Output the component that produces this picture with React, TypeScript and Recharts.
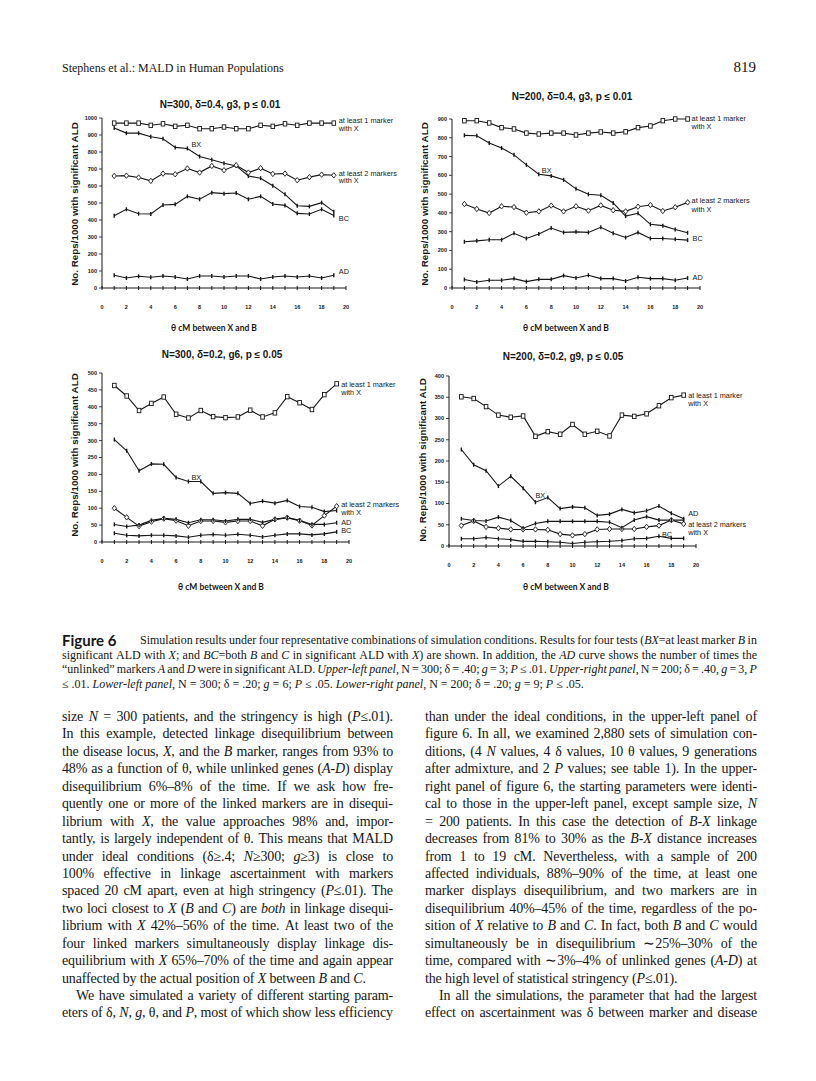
import React from "react";
import { LineChart, Line, XAxis, YAxis } from "recharts";

// θ (cM between X and B) — same for all four panels
const theta = [1, 2, 3, 4, 5, 6, 7, 8, 9, 10, 11, 12, 13, 14, 15, 16, 17, 18, 19];
const xTicks = [0, 1, 2, 3, 4, 5, 6, 7, 8, 9, 10, 11, 12, 13, 14, 15, 16, 17, 18, 19, 20];

// upper-left: N=300, δ=0.4, g3, p ≤ 0.01
const ulAtLeast1 = [970, 970, 970, 957, 966, 951, 957, 937, 937, 947, 937, 937, 957, 951, 966, 957, 970, 970, 970];
const ulBX = [941, 911, 911, 890, 878, 827, 821, 774, 754, 734, 718, 659, 646, 602, 551, 484, 480, 502, 449];
const ulAtLeast2 = [659, 661, 650, 630, 673, 669, 703, 679, 718, 693, 722, 679, 705, 671, 673, 634, 652, 667, 663];
const ulBC = [425, 463, 437, 435, 488, 492, 539, 522, 561, 555, 559, 522, 539, 494, 486, 439, 435, 463, 427];
const ulAD = [75, 59, 69, 63, 71, 65, 53, 71, 71, 65, 71, 71, 53, 65, 71, 65, 71, 59, 75];

// upper-right: N=200, δ=0.4, g3, p ≤ 0.01
const urAtLeast1 = [891, 891, 879, 854, 847, 825, 820, 825, 825, 815, 825, 831, 825, 832, 854, 863, 891, 900, 900];
const urBX = [813, 811, 772, 745, 709, 656, 606, 597, 576, 528, 499, 494, 453, 383, 398, 339, 332, 312, 294];
const urAtLeast2 = [447, 421, 399, 435, 431, 401, 408, 439, 408, 435, 412, 440, 414, 408, 433, 442, 410, 430, 456];
const urBC = [246, 251, 257, 257, 291, 264, 287, 319, 296, 299, 296, 323, 291, 269, 296, 264, 264, 260, 255];
const urAD = [45, 32, 41, 41, 50, 34, 46, 46, 66, 53, 68, 50, 50, 37, 57, 50, 50, 41, 53];

// lower-left: N=300, δ=0.2, g6, p ≤ 0.05
const llAtLeast1 = [463, 432, 389, 410, 429, 378, 367, 389, 371, 368, 370, 390, 370, 382, 430, 412, 392, 436, 468];
const llBX = [303, 270, 211, 231, 230, 191, 179, 179, 144, 146, 144, 114, 121, 115, 123, 105, 103, 90, 93];
const llAtLeast2 = [100, 73, 47, 60, 69, 63, 48, 62, 62, 58, 62, 62, 48, 67, 72, 63, 49, 78, 106];
const llAD = [52, 46, 50, 64, 70, 67, 57, 66, 66, 62, 67, 67, 58, 67, 72, 64, 52, 52, 57];
const llBC = [26, 20, 18, 20, 20, 18, 14, 20, 22, 20, 23, 20, 15, 20, 24, 24, 21, 24, 30];

// lower-right: N=200, δ=0.2, g9, p ≤ 0.05
const lrAtLeast1 = [351, 347, 328, 308, 303, 306, 258, 269, 263, 286, 263, 270, 259, 308, 305, 311, 330, 349, 355];
const lrBX = [227, 191, 177, 141, 164, 136, 103, 114, 88, 92, 90, 72, 75, 86, 78, 83, 94, 77, 64];
const lrAD = [64, 60, 59, 68, 60, 42, 53, 58, 58, 58, 58, 58, 56, 43, 61, 69, 61, 61, 61];
const lrAtLeast2 = [48, 59, 45, 42, 39, 39, 39, 38, 28, 25, 28, 39, 40, 40, 40, 45, 48, 61, 52];
const lrBC = [17, 17, 20, 17, 15, 11, 11, 10, 9, 6, 9, 10, 11, 13, 17, 18, 23, 18, 18];

const INK = "#161616";
const SANS = "'Liberation Sans', Arial, sans-serif";
const SERIF = "'Liberation Serif', 'Times New Roman', serif";
const GILL = "Lato, 'Noto Sans', sans-serif";

const buildRows = (a1: number[], bx: number[], a2: number[], bc: number[], ad: number[]) =>
  theta.map((t, i) => ({ theta: t, atLeast1: a1[i], bx: bx[i], atLeast2: a2[i], bc: bc[i], ad: ad[i] }));

type LabelSpec = { index: number; dx: number; dy: number; lines: string[]; gap?: number };

const renderDot = (shape: string, label?: LabelSpec) => (p: any) => {
  const { cx, cy, index } = p;
  if (cx == null || cy == null) return <g key={`e-${index}`} />;
  let mark;
  if (shape === "square") {
    mark = <rect x={cx - 1.8} y={cy - 2.2} width={3.6} height={4.4} fill="#fff" stroke={INK} strokeWidth={0.9} />;
  } else if (shape === "diamond") {
    mark = (
      <polygon
        points={`${cx},${cy - 2.7} ${cx + 2.2},${cy} ${cx},${cy + 2.7} ${cx - 2.2},${cy}`}
        fill="#fff"
        stroke={INK}
        strokeWidth={0.9}
      />
    );
  } else {
    mark = <line x1={cx} x2={cx} y1={cy - 2} y2={cy + 2} stroke={INK} strokeWidth={1.4} />;
  }
  return (
    <g key={`d-${index}`}>
      {mark}
      {label && label.index === index
        ? label.lines.map((ln, k) => (
            <text
              key={k}
              x={cx + label.dx}
              y={cy + label.dy + k * (label.gap ?? 8)}
              fontSize={7.3}
              fontFamily={SANS}
              fill={INK}
            >
              {ln}
            </text>
          ))
        : null}
    </g>
  );
};

const XTick = (props: any) => {
  const { x, y, payload } = props;
  return (
    <g>
      <line x1={x} x2={x} y1={y - 2} y2={y + 2} stroke={INK} strokeWidth={1} />
      {payload.value % 2 === 0 ? (
        <text x={x} y={y + 21} textAnchor="middle" fontSize={5.5} fontWeight="bold" fontFamily={SANS} fill={INK}>
          {payload.value}
        </text>
      ) : null}
    </g>
  );
};

type Panel = {
  title: string;
  x0: number;
  y0: number;
  w: number;
  h: number;
  yMax: number;
  yStep: number;
  rows: any[];
  labels: Record<string, LabelSpec>;
  titleAt: [number, number];
  xTitleAt: [number, number];
  yTitleAt: [number, number];
};

const series = [
  { key: "atLeast1", shape: "square" },
  { key: "bx", shape: "tick" },
  { key: "atLeast2", shape: "diamond" },
  { key: "bc", shape: "tick" },
  { key: "ad", shape: "tick" },
];

const panels: Panel[] = [
  {
    title: "N=300, δ=0.4, g3, p ≤ 0.01",
    x0: 102, y0: 118, w: 244, h: 170, yMax: 1000, yStep: 100,
    rows: buildRows(ulAtLeast1, ulBX, ulAtLeast2, ulBC, ulAD),
    labels: {
      atLeast1: { index: 18, dx: 5, dy: 0, lines: ["at least 1 marker", "with X"], gap: 7.5 },
      bx: { index: 6, dx: 4, dy: -1.5, lines: ["BX"] },
      atLeast2: { index: 18, dx: 5, dy: 0.5, lines: ["at least 2 markers", "with X"], gap: 7.5 },
      bc: { index: 18, dx: 5, dy: 6, lines: ["BC"] },
      ad: { index: 18, dx: 5, dy: -1, lines: ["AD"] },
    },
    titleAt: [220, 105], xTitleAt: [214, 328], yTitleAt: [75, 204],
  },
  {
    title: "N=200, δ=0.4, g3, p ≤ 0.01",
    x0: 452, y0: 119, w: 248, h: 169, yMax: 900, yStep: 100,
    rows: buildRows(urAtLeast1, urBX, urAtLeast2, urBC, urAD),
    labels: {
      atLeast1: { index: 18, dx: 4, dy: 1.5, lines: ["at least 1 marker", "with X"], gap: 8 },
      bx: { index: 6, dx: 3, dy: -1.5, lines: ["BX"] },
      atLeast2: { index: 18, dx: 4, dy: 1, lines: ["at least 2 markers", "with X"], gap: 9 },
      bc: { index: 18, dx: 5, dy: 0.5, lines: ["BC"] },
      ad: { index: 18, dx: 5, dy: 1.5, lines: ["AD"] },
    },
    titleAt: [572, 97], xTitleAt: [566, 328], yTitleAt: [425, 204],
  },
  {
    title: "N=300, δ=0.2, g6, p ≤ 0.05",
    x0: 102, y0: 373, w: 247, h: 169, yMax: 500, yStep: 50,
    rows: buildRows(llAtLeast1, llBX, llAtLeast2, llBC, llAD),
    labels: {
      atLeast1: { index: 18, dx: 4.5, dy: 3.5, lines: ["at least 1 marker", "with X"], gap: 8 },
      bx: { index: 6, dx: 3, dy: -1.5, lines: ["BX"] },
      atLeast2: { index: 18, dx: 4.5, dy: 1, lines: ["at least 2 markers", "with X"], gap: 8 },
      ad: { index: 18, dx: 4.5, dy: 2, lines: ["AD"] },
      bc: { index: 18, dx: 4.5, dy: 1.5, lines: ["BC"] },
    },
    titleAt: [222, 355], xTitleAt: [221, 587], yTitleAt: [75, 455],
  },
  {
    title: "N=200, δ=0.2, g9, p ≤ 0.05",
    x0: 449, y0: 376, w: 247, h: 170, yMax: 400, yStep: 50,
    rows: buildRows(lrAtLeast1, lrBX, lrAtLeast2, lrBC, lrAD),
    labels: {
      atLeast1: { index: 18, dx: 4.5, dy: 2.5, lines: ["at least 1 marker", "with X"], gap: 8 },
      bx: { index: 6, dx: 0, dy: -4, lines: ["BX"] },
      ad: { index: 18, dx: 4.5, dy: -3.8, lines: ["AD"] },
      atLeast2: { index: 18, dx: 4.5, dy: 2.8, lines: ["at least 2 markers", "with X"], gap: 8 },
      bc: { index: 16, dx: 3, dy: 0.5, lines: ["BC"] },
    },
    titleAt: [563, 357], xTitleAt: [566, 587], yTitleAt: [423, 460],
  },
];

const abs = (x: number, y: number): React.CSSProperties => ({
  position: "absolute",
  left: x,
  top: y,
  transform: "translate(-50%, -50%)",
  whiteSpace: "nowrap",
  lineHeight: 1,
});

function ChartPanel({ p }: { p: Panel }) {
  const yTicks: number[] = [];
  for (let v = 0; v <= p.yMax; v += p.yStep) yTicks.push(v);
  return (
    <>
      <div style={{ ...abs(p.titleAt[0], p.titleAt[1]), fontFamily: SANS, fontWeight: "bold", fontSize: 10, color: INK }}>
        {p.title}
      </div>
      <div
        style={{
          ...abs(p.yTitleAt[0], p.yTitleAt[1]),
          transform: "translate(-50%, -50%) rotate(-90deg)",
          fontFamily: SANS,
          fontWeight: "bold",
          fontSize: 9.8,
          color: INK,
        }}
      >
        No. Reps/1000 with significant ALD
      </div>
      <div style={{ ...abs(p.xTitleAt[0], p.xTitleAt[1]), fontFamily: GILL, fontWeight: "bold", fontSize: 8.5, color: INK }}>
        θ cM between X and B
      </div>
      <div style={{ position: "absolute", left: p.x0 - 40, top: p.y0 - 10 }}>
        <LineChart
          width={p.w + 120}
          height={p.h + 40}
          data={p.rows}
          margin={{ top: 10, right: 80, bottom: 0, left: 10 }}
        >
          <XAxis
            dataKey="theta"
            type="number"
            domain={[0, 20]}
            ticks={xTicks}
            interval={0}
            height={30}
            tickSize={0}
            tickMargin={0}
            tickLine={false}
            axisLine={{ stroke: INK, strokeWidth: 1 }}
            tick={<XTick />}
          />
          <YAxis
            type="number"
            domain={[0, p.yMax]}
            ticks={yTicks}
            interval={0}
            width={30}
            tickSize={3}
            tickMargin={2}
            axisLine={{ stroke: INK, strokeWidth: 1 }}
            tickLine={{ stroke: INK, strokeWidth: 0.8 }}
            tick={{ fontSize: 5.5, fontWeight: "bold", fontFamily: SANS, fill: INK }}
          />
          {series.map((s) => (
            <Line
              key={s.key}
              type="linear"
              dataKey={s.key}
              stroke={INK}
              strokeWidth={1.1}
              dot={renderDot(s.shape, p.labels[s.key])}
              activeDot={false}
              isAnimationActive={false}
            />
          ))}
        </LineChart>
      </div>
    </>
  );
}

// text of the page. _..._ marks italics
const caption = [
  "Simulation results under four representative combinations of simulation conditions. Results for four tests (_BX_=at least marker _B_ in",
  "significant ALD with _X_; and _BC_=both _B_ and _C_ in significant ALD with _X_) are shown. In addition, the _AD_ curve shows the number of times the",
  "“unlinked” markers _A_ and _D_ were in significant ALD. _Upper-left panel_, N = 300; δ = .40; _g_ = 3; _P_ ≤ .01. _Upper-right panel_, N = 200; δ = .40, _g_ = 3, _P_",
  "≤ .01. _Lower-left panel_, N = 300; δ = .20; _g_ = 6; _P_ ≤ .05. _Lower-right panel_, N = 200; δ = .20; _g_ = 9; _P_ ≤ .05.",
];

const leftColumn = [
  "size _N_ = 300 patients, and the stringency is high (_P_≤.01).",
  "In this example, detected linkage disequilibrium between",
  "the disease locus, _X_, and the _B_ marker, ranges from 93% to",
  "48% as a function of θ, while unlinked genes (_A-D_) display",
  "disequilibrium 6%–8% of the time. If we ask how fre-",
  "quently one or more of the linked markers are in disequi-",
  "librium with _X_, the value approaches 98% and, impor-",
  "tantly, is largely independent of θ. This means that MALD",
  "under ideal conditions (δ≥.4; _N_≥300; _g_≥3) is close to",
  "100% effective in linkage ascertainment with markers",
  "spaced 20 cM apart, even at high stringency (_P_≤.01). The",
  "two loci closest to _X_ (_B_ and _C_) are _both_ in linkage disequi-",
  "librium with _X_ 42%–56% of the time. At least two of the",
  "four linked markers simultaneously display linkage dis-",
  "equilibrium with _X_ 65%–70% of the time and again appear",
  "unaffected by the actual position of _X_ between _B_ and _C_.",
  "We have simulated a variety of different starting param-",
  "eters of δ, _N_, _g_, θ, and _P_, most of which show less efficiency",
];
const leftRagged = [15];
const leftIndent = [16];

const rightColumn = [
  "than under the ideal conditions, in the upper-left panel of",
  "figure 6. In all, we examined 2,880 sets of simulation con-",
  "ditions, (4 _N_ values, 4 δ values, 10 θ values, 9 generations",
  "after admixture, and 2 _P_ values; see table 1). In the upper-",
  "right panel of figure 6, the starting parameters were identi-",
  "cal to those in the upper-left panel, except sample size, _N_",
  "= 200 patients. In this case the detection of _B-X_ linkage",
  "decreases from 81% to 30% as the _B-X_ distance increases",
  "from 1 to 19 cM. Nevertheless, with a sample of 200",
  "affected individuals, 88%–90% of the time, at least one",
  "marker displays disequilibrium, and two markers are in",
  "disequilibrium 40%–45% of the time, regardless of the po-",
  "sition of _X_ relative to _B_ and _C_. In fact, both _B_ and _C_ would",
  "simultaneously be in disequilibrium ∼25%–30% of the",
  "time, compared with ∼3%–4% of unlinked genes (_A-D_) at",
  "the high level of statistical stringency (_P_≤.01).",
  "In all the simulations, the parameter that had the largest",
  "effect on ascertainment was δ between marker and disease",
];
const rightRagged = [15];
const rightIndent = [16];

type Seg = { t: string; i: boolean };
function parseWords(s: string): Seg[][] {
  const words: Seg[][] = [];
  let cur: Seg[] = [];
  let buf = "";
  let it = false;
  for (const ch of s) {
    if (ch === "_") {
      if (buf) cur.push({ t: buf, i: it });
      buf = "";
      it = !it;
    } else if (ch === " ") {
      if (buf) cur.push({ t: buf, i: it });
      buf = "";
      if (cur.length) words.push(cur);
      cur = [];
    } else buf += ch;
  }
  if (buf) cur.push({ t: buf, i: it });
  if (cur.length) words.push(cur);
  return words;
}

const renderWord = (w: Seg[], k: number) => (
  <span key={k} style={{ whiteSpace: "nowrap" }}>
    {w.map((sg, j) => (sg.i ? <i key={j}>{sg.t}</i> : <React.Fragment key={j}>{sg.t}</React.Fragment>))}
  </span>
);

function TextLine({ text, justify, indent, height }: { text: string; justify: boolean; indent?: number; height: number }) {
  const words = parseWords(text);
  if (!justify) {
    return (
      <div style={{ height, lineHeight: `${height}px`, whiteSpace: "nowrap", paddingLeft: indent || 0 }}>
        {words.map((w, k) => (
          <React.Fragment key={k}>
            {k > 0 ? " " : null}
            {renderWord(w, k)}
          </React.Fragment>
        ))}
      </div>
    );
  }
  return (
    <div
      style={{
        height,
        lineHeight: `${height}px`,
        display: "flex",
        justifyContent: "space-between",
        paddingLeft: indent || 0,
      }}
    >
      {words.map(renderWord)}
    </div>
  );
}

function Column({ lines, ragged, indents, left, top, width }: { lines: string[]; ragged: number[]; indents: number[]; left: number; top: number; width: number }) {
  return (
    <div style={{ position: "absolute", left, top, width, fontFamily: SERIF, fontSize: 14, letterSpacing: -0.15, color: INK }}>
      {lines.map((ln, i) => (
        <TextLine key={i} text={ln} justify={!ragged.includes(i)} indent={indents.includes(i) ? 14 : 0} height={17.45} />
      ))}
    </div>
  );
}

export default function App() {
  return (
    <div style={{ position: "absolute", left: 0, top: 0, width: 816, height: 1081, background: "#fff", overflow: "hidden" }}>
      <div style={{ position: "absolute", left: 62, top: 61, fontFamily: SERIF, fontSize: 12, color: INK, whiteSpace: "nowrap", lineHeight: "14px" }}>
        Stephens et al.: MALD in Human Populations
      </div>
      <div style={{ position: "absolute", right: 60, top: 59, fontFamily: SERIF, fontSize: 15, color: INK, lineHeight: "17px" }}>819</div>

      {panels.map((p, i) => (
        <ChartPanel key={i} p={p} />
      ))}

      <div style={{ position: "absolute", left: 62, top: 633, width: 695, fontFamily: SERIF, fontSize: 12, color: INK }}>
        <div style={{ display: "flex", alignItems: "center" }}>
          <span style={{ fontFamily: GILL, fontWeight: "bold", fontSize: 15, width: 78, lineHeight: "14.7px" }}>Figure 6</span>
          <div style={{ flex: 1 }}>
            <TextLine text={caption[0]} justify={true} height={14.7} />
          </div>
        </div>
        <TextLine text={caption[1]} justify={true} height={14.7} />
        <TextLine text={caption[2]} justify={true} height={14.7} />
        <TextLine text={caption[3]} justify={false} height={14.7} />
      </div>

      <Column lines={leftColumn} ragged={leftRagged} indents={leftIndent} left={62} top={708} width={331} />
      <Column lines={rightColumn} ragged={rightRagged} indents={rightIndent} left={425} top={708} width={332} />
    </div>
  );
}
